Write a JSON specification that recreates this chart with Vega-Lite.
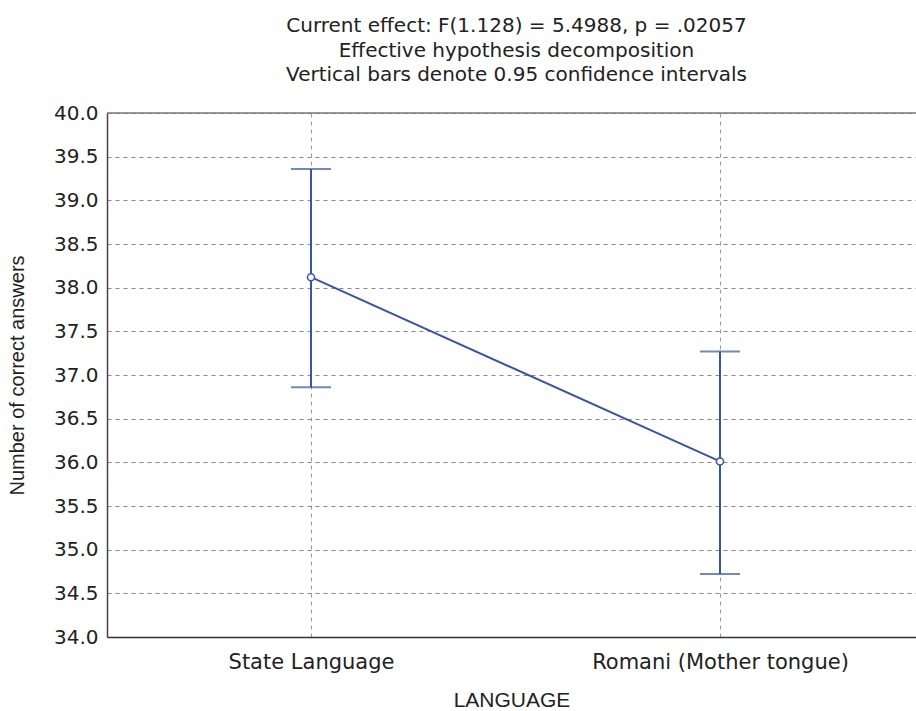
{
  "$schema": "https://vega.github.io/schema/vega-lite/v6.json",
  "width": 809,
  "height": 524,
  "autosize": {"type": "none"},
  "padding": {"left": 107, "top": 113, "right": 0, "bottom": 74},
  "background": "white",
  "config": {"view": {"stroke": null}, "font": "DejaVu Sans"},
  "title": {
    "text": ["Current effect: F(1.128) = 5.4988, p = .02057", "Effective hypothesis decomposition", "Vertical bars denote 0.95 confidence intervals"],
    "fontSize": 20,
    "fontWeight": "normal",
    "color": "#222222",
    "lineHeight": 24.5,
    "offset": 18,
    "anchor": "middle",
    "frame": "group",
    "dx": 5
  },
  "data": {"values": [
    {"language": "State Language", "mean": 38.12, "lo": 36.86, "hi": 39.36},
    {"language": "Romani (Mother tongue)", "mean": 36.01, "lo": 34.72, "hi": 37.27}
  ]},
  "layer": [
    {
      "mark": {"type": "rule", "color": "#3a54a4", "strokeWidth": 2},
      "encoding": {
        "x": {"field": "language", "type": "nominal", "sort": null,
          "scale": {"type": "point", "padding": 0.489, "align": 0.51},
          "axis": {"title": "LANGUAGE", "labelAngle": 0, "labelFontSize": 21, "labelColor": "#222222", "labelPadding": 14, "labelLimit": 400,
            "titleFont": "Liberation Sans", "titleFontSize": 21, "titleFontWeight": "normal", "titleColor": "#222222", "titlePadding": 17,
            "ticks": false, "domainColor": "#333333", "domainWidth": 1.5,
            "grid": true, "gridDash": [4, 4], "gridColor": "#999999", "gridWidth": 1}},
        "y": {"field": "lo", "type": "quantitative",
          "scale": {"domain": [34, 40], "nice": false, "zero": false},
          "axis": {"title": "Number of correct answers", "values": [34, 34.5, 35, 35.5, 36, 36.5, 37, 37.5, 38, 38.5, 39, 39.5, 40],
            "format": ".1f", "labelFontSize": 20, "labelColor": "#222222", "labelPadding": 9, "ticks": false,
            "titleFont": "Liberation Sans", "titleFontSize": 20, "titleFontWeight": "normal", "titleColor": "#222222", "titlePadding": 26,
            "domainColor": "#444444", "domainWidth": 1.5,
            "grid": true, "gridDash": [4, 4], "gridColor": "#888888", "gridWidth": 1}},
        "y2": {"field": "hi"}
      }
    },
    {
      "data": {"values": [{"top": 40}]},
      "mark": {"type": "rule", "color": "#777777", "strokeWidth": 1.5},
      "encoding": {"y": {"field": "top", "type": "quantitative"}}
    },
    {
      "mark": {"type": "tick", "orient": "horizontal", "color": "#3a54a4", "size": 40, "thickness": 2},
      "encoding": {
        "x": {"field": "language", "type": "nominal", "sort": null},
        "y": {"field": "lo", "type": "quantitative"}
      }
    },
    {
      "mark": {"type": "tick", "orient": "horizontal", "color": "#3a54a4", "size": 40, "thickness": 2},
      "encoding": {
        "x": {"field": "language", "type": "nominal", "sort": null},
        "y": {"field": "hi", "type": "quantitative"}
      }
    },
    {
      "mark": {"type": "line", "color": "#3a54a4", "strokeWidth": 2},
      "encoding": {
        "x": {"field": "language", "type": "nominal", "sort": null},
        "y": {"field": "mean", "type": "quantitative"}
      }
    },
    {
      "mark": {"type": "point", "filled": true, "fill": "white", "stroke": "#3a54a4", "strokeWidth": 1.5, "size": 50, "opacity": 1},
      "encoding": {
        "x": {"field": "language", "type": "nominal", "sort": null},
        "y": {"field": "mean", "type": "quantitative"}
      }
    }
  ]
}
